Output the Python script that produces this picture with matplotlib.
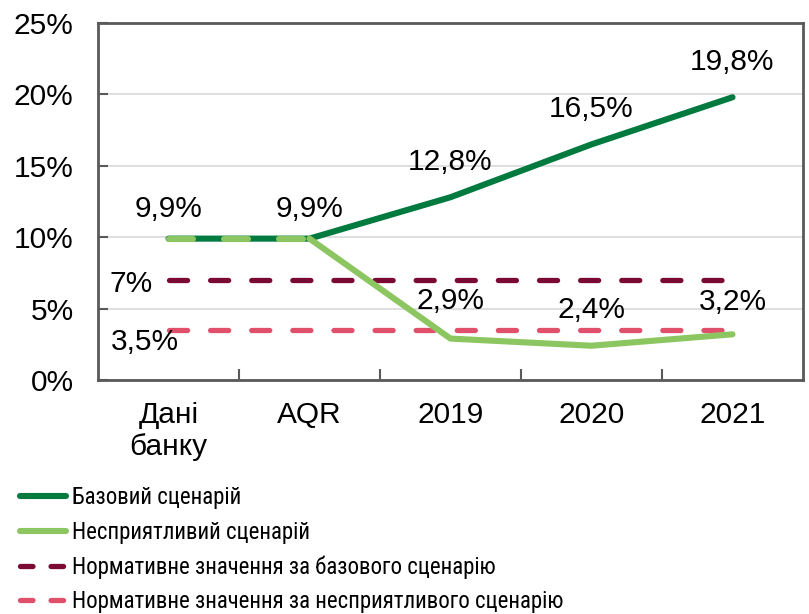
import matplotlib
matplotlib.use("Agg")
import matplotlib.pyplot as plt
from matplotlib.lines import Line2D
from matplotlib.ticker import FixedLocator, PercentFormatter
import logging
logging.getLogger('matplotlib.font_manager').setLevel(logging.ERROR)

plt.rcParams['font.family'] = ['Liberation Sans', 'DejaVu Sans']
plt.rcParams['lines.scale_dashes'] = False

categories = ["Дані\nбанку", "AQR", "2019", "2020", "2021"]
base = [9.9, 9.9, 12.8, 16.5, 19.8]
adverse = [9.9, 9.9, 2.9, 2.4, 3.2]
norm_base = 7.0
norm_adverse = 3.5
base_labels = ["9,9%", "9,9%", "12,8%", "16,5%", "19,8%"]
adverse_labels = ["", "", "2,9%", "2,4%", "3,2%"]
norm_base_label = "7%"
norm_adverse_label = "3,5%"
legend_labels = ["Базовий сценарій", "Несприятливий сценарій",
                 "Нормативне значення за базового сценарію",
                 "Нормативне значення за несприятливого сценарію"]

# label offsets (points, vertical) – styling only
base_off = [21, 21, 25, 25.5, 25.5]
adv_off = [0, 0, 27, 26, 23.5]

c_base = "#007A3E"
c_adv = "#8CC660"
c_nb = "#7A0A34"
c_na = "#E0506B"
spine_c = "#595959"

fig = plt.figure(figsize=(8.09, 6.14), dpi=100)
ax = fig.add_axes([98/809, 1-380/614, (803-98)/809, (380-23)/614])

x = list(range(len(categories)))
FS = 21.5
lw_main = 4.4
lw_dash = 3.8

# normative lines
ax.plot([x[0], x[-1]], [norm_base]*2, color=c_nb, lw=lw_dash,
        dash_capstyle='round', dashes=(13, 16.6), zorder=2)
ax.plot([x[0], x[-1]], [norm_adverse]*2, color=c_na, lw=lw_dash,
        dash_capstyle='round', dashes=(13, 16.6), zorder=2)

# base line
ax.plot(x, base, color=c_base, lw=lw_main, solid_capstyle='round', solid_joinstyle='round', zorder=3)
# adverse line: dashed over first segment, solid afterwards
ax.plot(x[:2], adverse[:2], color=c_adv, lw=lw_main, dash_capstyle='round',
        dashes=(17.3, 22.3), zorder=4)
ax.plot(x[1:], adverse[1:], color=c_adv, lw=lw_main, solid_capstyle='round',
        solid_joinstyle='round', zorder=4)

# data labels
for xi, v, t, o in zip(x, base, base_labels, base_off):
    ax.annotate(t, (xi, v), xytext=(0, o), textcoords='offset points',
                ha='center', va='center', fontsize=FS)
for xi, v, t, o in zip(x, adverse, adverse_labels, adv_off):
    if t:
        ax.annotate(t, (xi, v), xytext=(0, o), textcoords='offset points',
                    ha='center', va='center', fontsize=FS)
ax.annotate(norm_base_label, (x[0], norm_base), xytext=(-27, -2.5), textcoords='offset points',
            ha='center', va='center', fontsize=FS)
ax.annotate(norm_adverse_label, (x[0], norm_adverse), xytext=(-17, -8.5), textcoords='offset points',
            ha='center', va='center', fontsize=FS)

ax.set_xlim(-0.5, len(categories) - 0.5)
ax.set_ylim(0, 25)
ax.yaxis.set_major_locator(FixedLocator([0, 5, 10, 15, 20, 25]))
ax.yaxis.set_major_formatter(PercentFormatter(decimals=0))
ax.set_xticks(x)
ax.set_xticklabels(categories, fontsize=FS, linespacing=1.2)
ax.xaxis.set_minor_locator(FixedLocator([0.5, 1.5, 2.5, 3.5]))
ax.tick_params(axis='x', which='major', length=0, pad=15)
ax.tick_params(axis='x', which='minor', direction='in', length=8, width=1.5, color=spine_c)
ax.tick_params(axis='y', direction='in', length=7, width=1.5, color=spine_c, labelsize=FS, pad=17.5)
ax.grid(axis='y', color='#D9D9D9', lw=1.2)
ax.set_axisbelow(True)
for s in ax.spines.values():
    s.set_color(spine_c)
    s.set_linewidth(2)

handles = [
    Line2D([], [], color=c_base, lw=lw_main, solid_capstyle='round'),
    Line2D([], [], color=c_adv, lw=lw_main, solid_capstyle='round'),
    Line2D([], [], color=c_nb, lw=lw_dash, dash_capstyle='round', dashes=(9, 13)),
    Line2D([], [], color=c_na, lw=lw_dash, dash_capstyle='round', dashes=(9, 13)),
]
leg = fig.legend(handles, legend_labels, loc='lower left', bbox_to_anchor=(20/809, 1/614),
                 frameon=False, handlelength=2.0, handletextpad=0.25, labelspacing=0.5,
                 borderaxespad=0, borderpad=0,
                 prop={'family': ['Roboto Condensed', 'PT Sans Narrow', 'Arial Narrow',
                                  'Liberation Sans Narrow', 'Liberation Sans'], 'size': 16.5})

fig.savefig("out.png", dpi=100)
